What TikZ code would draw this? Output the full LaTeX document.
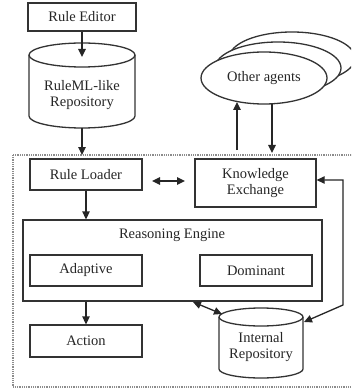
\documentclass[tikz,border=0pt]{standalone}
\usepackage{fontspec}
\setmainfont{Liberation Serif}
\usetikzlibrary{arrows.meta,shapes.geometric}
\begin{document}
\begin{tikzpicture}[x=1pt,y=-1pt,
  every node/.style={font=\fontsize{14.5}{16}\selectfont, text=black!85, align=center, inner sep=0pt},
  box/.style={draw=black!80, line width=1.3pt, rectangle},
  conn/.style={draw=black!85, line width=1.3pt},
  tip/.style={-{Triangle[length=8pt,width=7.5pt]}},
  tips/.style={{Triangle[length=8pt,width=7.5pt]}-{Triangle[length=8pt,width=7.5pt]}},
  shell/.style={draw=black!80, line width=1.3pt, fill=white}]
\clip (0,0) rectangle (351,390);
\fill[white] (0,0) rectangle (351,390);

% system boundary
\draw[black!45, line width=1.3pt, dash pattern=on 1pt off 0.8pt] (13,155) rectangle (380,387);

% boxes
\node[box, minimum width=108pt, minimum height=28pt] (editor) at (82,17) {Rule Editor};
\node[box, minimum width=112pt, minimum height=31pt] (loader) at (86,174.5) {Rule Loader};
\node[box, minimum width=121pt, minimum height=48pt] (ke) at (255.5,183) {Knowledge\\Exchange};
\node[box, minimum width=299pt, minimum height=81pt] (engine) at (172.5,260.5) {};
\node (enginelabel) at (172,235) {Reasoning Engine};
\node[box, minimum width=112pt, minimum height=31pt] (adaptive) at (86,270.5) {Adaptive};
\node[box, minimum width=112pt, minimum height=31pt] (dominant) at (256,270.5) {Dominant};
\node[box, minimum width=112pt, minimum height=32pt] (action) at (86,341) {Action};

% rule repository (cylinder)
\draw[shell] (29,55) -- (29,116) arc[start angle=180, end angle=0, x radius=53, y radius=12] -- (135,55);
\draw[shell] (82,55) ellipse[x radius=53, y radius=12];
\node (repo) at (82,95) {RuleML-like\\Repository};
\coordinate (repotop) at (82,57);
\coordinate (repobot) at (82,128);

% internal repository (cylinder)
\draw[shell] (219,317) -- (219,369) arc[start angle=180, end angle=0, x radius=42, y radius=9] -- (303,317);
\draw[shell] (261,317) ellipse[x radius=42, y radius=9];
\node (irepo) at (261,347) {Internal\\Repository};
\coordinate (iretl) at (222,314);
\coordinate (iretr) at (304,322);

% other agents (stacked ellipses)
\draw[shell] (292,58) ellipse[x radius=63, y radius=26];
\draw[shell] (278,68) ellipse[x radius=63, y radius=26];
\node[shell, ellipse, minimum width=126pt, minimum height=52pt] (agents) at (264,78) {Other agents};

% connector end points on the boundary
\coordinate (bloader) at (82,155);
\coordinate (bup) at (237,150);
\coordinate (bdown) at (272,153);
\coordinate (rl) at (152,181);
\coordinate (kel) at (185,181);
\coordinate (eng) at (193,302);
\coordinate (corner1) at (343,180);
\coordinate (corner2) at (343,305);

% connectors
\draw[conn, tip] (editor.south) -- (repotop);
\draw[conn, tip] (repobot) -- (bloader);
\draw[conn, tips] (rl) -- (kel);
\draw[conn, tip] (loader.south) -- (engine.north -| loader.south);
\draw[conn, tip] (engine.south -| action.north) -- (action.north);
\draw[conn, tip] (bup) -- (237,102);
\draw[conn, tip] (272,104) -- (bdown);
\draw[conn, tips] (eng) -- (iretl);
\draw[conn, tips] (ke.east |- corner1) -- (corner1) -- (corner2) -- (iretr);
\end{tikzpicture}
\end{document}
